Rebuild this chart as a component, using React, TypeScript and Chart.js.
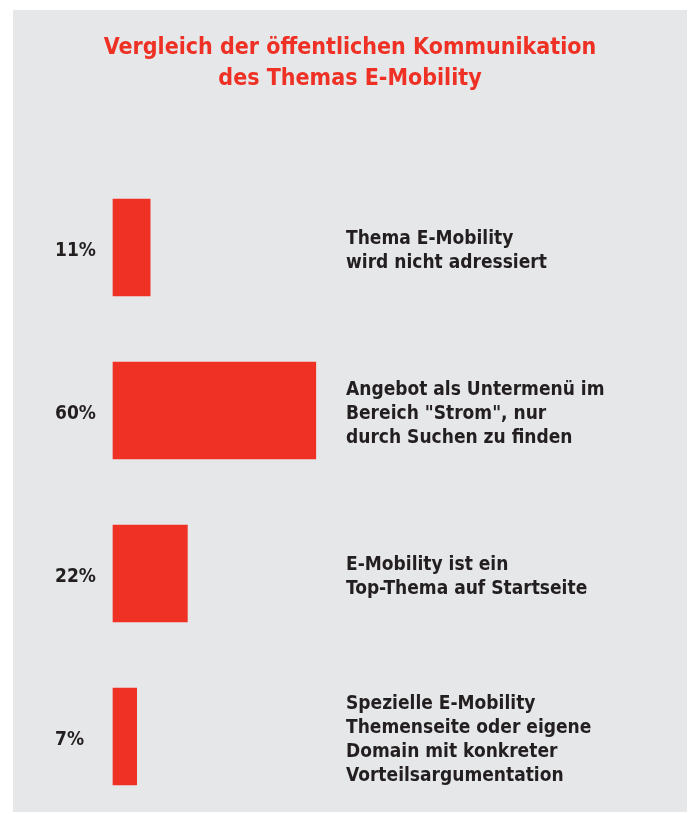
import React, { useEffect, useRef } from "react";
import { Chart, registerables } from "chart.js";
Chart.register(...registerables);

const titleLines = ["Vergleich der öffentlichen Kommunikation", "des Themas E-Mobility"];
const categories = ["nicht adressiert", "Untermenü", "Top-Thema", "Themenseite"];
const values = [11, 60, 22, 7];
const valueLabels = ["11%", "60%", "22%", "7%"];
const descriptionLines = [
  ["Thema E-Mobility", "wird nicht adressiert"],
  ["Angebot als Untermenü im", "Bereich \"Strom\", nur", "durch Suchen zu finden"],
  ["E-Mobility ist ein", "Top-Thema auf Startseite"],
  ["Spezielle E-Mobility", "Themenseite oder eigene", "Domain mit konkreter", "Vorteilsargumentation"],
];

const RED = "#EE3124";
const BG = "#E6E7E9";
const TEXT = "#231F20";
const FONT = "'DejaVu Sans Condensed', 'Noto Sans', sans-serif";

const decor = {
  id: "decor",
  beforeDraw(chart: any) {
    const ctx = chart.ctx;
    ctx.save();
    ctx.fillStyle = "#FFFFFF";
    ctx.fillRect(0, 0, chart.width, chart.height);
    ctx.fillStyle = BG;
    ctx.fillRect(13, 10, 674, 802);
    ctx.fillStyle = RED;
    ctx.font = `bold 23px ${FONT}`;
    ctx.textAlign = "center";
    ctx.textBaseline = "middle";
    titleLines.forEach((t, i) => ctx.fillText(t, 350, 48 + i * 31));
    ctx.restore();
  },
  afterDraw(chart: any) {
    const ctx = chart.ctx;
    const meta = chart.getDatasetMeta(0);
    ctx.save();
    ctx.fillStyle = TEXT;
    ctx.textBaseline = "middle";
    ctx.textAlign = "left";
    meta.data.forEach((bar: any, i: number) => {
      const cy = bar.y + 3.5;
      ctx.font = `bold 19px ${FONT}`;
      ctx.fillText(valueLabels[i], 55, cy);
      const lines = descriptionLines[i];
      ctx.font = `bold 19px ${FONT}`;
      const lh = 24;
      lines.forEach((l, j) => {
        ctx.fillText(l, 346, cy + (j - (lines.length - 1) / 2) * lh);
      });
    });
    ctx.restore();
  },
};

export default function App() {
  const ref = useRef<HTMLCanvasElement>(null);
  useEffect(() => {
    const chart = new Chart(ref.current!, {
      type: "bar",
      data: {
        labels: categories,
        datasets: [
          {
            data: values,
            backgroundColor: RED,
            barThickness: 97,
            clip: false as any,
          },
        ],
      },
      options: {
        indexAxis: "y",
        responsive: false,
        animation: false,
        layout: { padding: { left: 113, right: 239, top: 247.5, bottom: 77.5 } },
        scales: {
          x: { display: false, min: 0, max: 100 },
          y: { display: false, offset: false },
        },
        plugins: { legend: { display: false }, tooltip: { enabled: false }, title: { display: false } },
      },
      plugins: [decor],
    });
    return () => chart.destroy();
  }, []);
  return (
    <canvas
      ref={ref}
      width={690}
      height={814}
      style={{ position: "fixed", left: 0, top: 0, width: 690, height: 814 }}
    />
  );
}
